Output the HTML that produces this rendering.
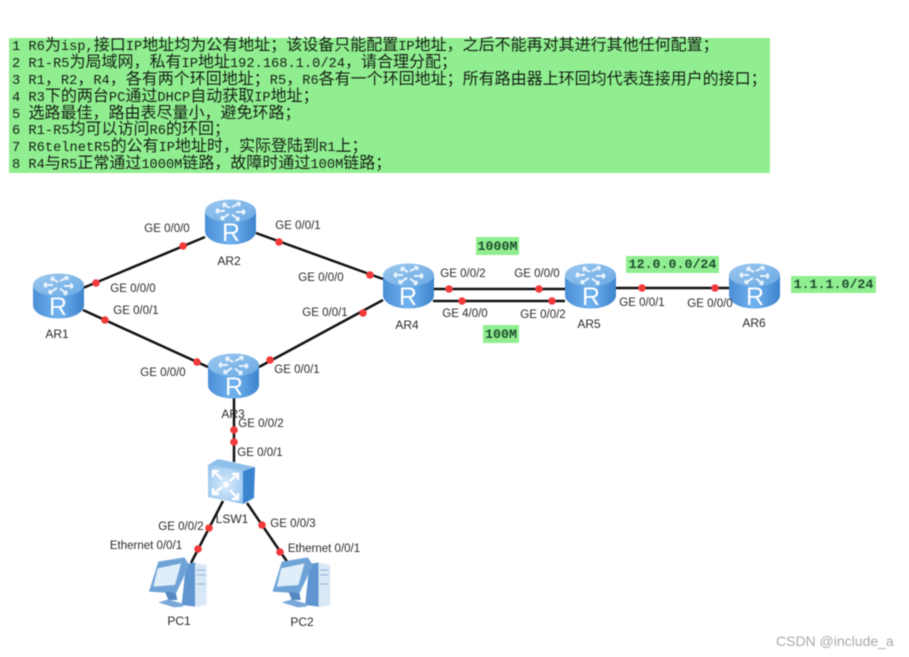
<!DOCTYPE html>
<html><head><meta charset="utf-8"><style>
html,body{margin:0;padding:0;background:#fff}
svg{display:block;filter:blur(.4px)}
.t text{font-family:"Liberation Sans","Noto Sans CJK SC",sans-serif;font-size:16px;fill:#142014;white-space:pre}
.t tspan{font-family:"Liberation Mono",monospace;font-size:13.7px}
.l text{font-family:"Liberation Sans",sans-serif;font-size:11.5px;fill:#2a2a2a;text-anchor:middle}
.n text{font-family:"Liberation Sans",sans-serif;font-size:12px;fill:#2a2a2a;text-anchor:middle}
.g text{font-family:"Liberation Mono",monospace;font-size:13.3px;font-weight:bold;fill:#1d4d2e;text-anchor:middle}
.r{font-family:"Liberation Sans",sans-serif;font-size:25px;fill:#fff;text-anchor:middle}
</style></head><body>
<svg width="909" height="657" viewBox="0 0 909 657" xmlns="http://www.w3.org/2000/svg">
<defs>
<linearGradient id="b" x1="0" x2="1" y1="0" y2="0"><stop offset="0" stop-color="#4b8fd6"/><stop offset=".5" stop-color="#70b2ef"/><stop offset="1" stop-color="#3d83cc"/></linearGradient>
<linearGradient id="tp" x1="0" x2="1" y1="0" y2="1"><stop offset="0" stop-color="#9cc8ef"/><stop offset="1" stop-color="#6aa9e4"/></linearGradient>
<radialGradient id="f" cx=".5" cy=".5" r=".7"><stop offset="0" stop-color="#dcedfb"/><stop offset="1" stop-color="#8ec0ee"/></radialGradient>
<g id="rt">
<path d="M0 12V32C0 40 11.5 45.5 25.5 45.5S51 40 51 32V12Z" fill="url(#b)"/>
<ellipse cx="25.5" cy="12" rx="25.5" ry="11.5" fill="url(#tp)"/>
<g stroke="#eaf4fd" stroke-width="2" fill="none">
<path d="M18 5L25 9M18 5l1 3.4M18 5l3.4-.6"/><path d="M35 4L27 8M35 4l-3.4-.2M35 4l-1 3.2"/>
<path d="M16 20L24 15M16 20l3.4.2M16 20l.8-3.2"/><path d="M34 21L27 15.5M34 21l-3.4.2M34 21l-.8-3.4"/>
<path d="M11 12H20M11 12l2.4-2.4M11 12l2.4 2.4"/><path d="M40 13H31M40 13l-2.4-2.4M40 13l-2.4 2.4"/>
</g>
</g>
<g id="pc">
<path d="M258 492L285 487L285 620L245 615Z" fill="#5f95d0"/>
<path d="M285 488L320 495V615L285 622Z" fill="#d9e8f6"/>
<path d="M290 510H316M290 525H316M290 552H316" stroke="#8fb4da" stroke-width="3"/>
<path d="M175 485L253 472L268 495L228 580L147 575Z" fill="#6fa3d8"/>
<path d="M173 505L243 490L225 555L160 560Z" fill="#e0eefa"/>
<path d="M195 575L228 580L232 600L205 600Z" fill="#5489c2"/>
<path d="M175 607L205 598L245 610L250 620L222 622Z" fill="#7aa8da"/>
</g>
</defs>
<rect width="909" height="657" fill="#fff"/>
<rect x="9" y="38" width="761" height="135" fill="#90ee90"/>
<g class="t">
<text x="12" y="50"><tspan>1 R6</tspan>为<tspan>isp,</tspan>接口<tspan>IP</tspan>地址均为公有地址；该设备只能配置<tspan>IP</tspan>地址，之后不能再对其进行其他任何配置；</text>
<text x="12" y="67"><tspan>2 R1-R5</tspan>为局域网，私有<tspan>IP</tspan>地址<tspan>192.168.1.0/24</tspan>，请合理分配；</text>
<text x="12" y="84"><tspan>3 R1</tspan>，<tspan>R2</tspan>，<tspan>R4</tspan>，各有两个环回地址；<tspan>R5</tspan>，<tspan>R6</tspan>各有一个环回地址；所有路由器上环回均代表连接用户的接口；</text>
<text x="12" y="101"><tspan>4 R3</tspan>下的两台<tspan>PC</tspan>通过<tspan>DHCP</tspan>自动获取<tspan>IP</tspan>地址；</text>
<text x="12" y="118"><tspan>5 </tspan>选路最佳，路由表尽量小，避免环路；</text>
<text x="12" y="134"><tspan>6 R1-R5</tspan>均可以访问<tspan>R6</tspan>的环回；</text>
<text x="12" y="151"><tspan>7 R6telnetR5</tspan>的公有<tspan>IP</tspan>地址时，实际登陆到<tspan>R1</tspan>上；</text>
<text x="12" y="168"><tspan>8 R4</tspan>与<tspan>R5</tspan>正常通过<tspan>1000M</tspan>链路，故障时通过<tspan>100M</tspan>链路；</text>
</g>
<g stroke="#111" stroke-width="2.5" fill="none">
<path d="M83 288L205 237"/><path d="M256 233L383 279"/><path d="M83 310L208 367"/><path d="M259 367L383 300"/>
<path d="M433 289H565"/><path d="M433 301H565"/><path d="M616 288H729"/>
<path d="M234 398V462"/><path d="M223 501L191 563"/><path d="M247 503L288 563"/>
</g>
<g fill="#f23a3a">
<circle cx="96" cy="283" r="3.8"/><circle cx="183" cy="246" r="3.8"/><circle cx="279" cy="242" r="3.8"/><circle cx="370" cy="275" r="3.8"/>
<circle cx="105" cy="320" r="3.8"/><circle cx="197" cy="362" r="3.8"/><circle cx="270" cy="360" r="3.8"/><circle cx="363" cy="313" r="3.8"/>
<circle cx="449" cy="289" r="3.8"/><circle cx="539" cy="289" r="3.8"/><circle cx="462" cy="301" r="3.8"/><circle cx="552" cy="301" r="3.8"/>
<circle cx="642" cy="288" r="3.8"/><circle cx="715" cy="288" r="3.8"/>
<circle cx="234" cy="430" r="3.8"/><circle cx="234" cy="442" r="3.8"/>
<circle cx="209" cy="528" r="3.8"/><circle cx="198" cy="549" r="3.8"/><circle cx="262" cy="525" r="3.8"/><circle cx="280" cy="552" r="3.8"/>
</g>
<use href="#rt" x="33" y="273"/><text class="r" x="58" y="315">R</text>
<use href="#rt" x="205" y="199"/><text class="r" x="231" y="241">R</text>
<use href="#rt" x="208" y="353"/><text class="r" x="234" y="395">R</text>
<use href="#rt" x="383" y="263"/><text class="r" x="408" y="305">R</text>
<use href="#rt" x="565" y="263"/><text class="r" x="591" y="305">R</text>
<use href="#rt" x="729" y="263"/><text class="r" x="755" y="305">R</text>
<path d="M208 465L243 471L255 467L218 459Z" fill="#8fc0ec"/>
<path d="M208 465L243 471V504L208 497Z" fill="url(#f)"/>
<path d="M243 471L255 467L254 498L243 504Z" fill="#3a84d0"/>
<g stroke="#fff" stroke-width="2.4" fill="none">
<path d="M213 471L222 479M213 477V471H219"/><path d="M238 474L230 481M232 474H238V480"/>
<path d="M213 494L222 487M213 488V494H219"/><path d="M238 499L230 490M238 493V499H232"/>
</g>
<circle cx="226" cy="484.5" r="3" fill="#fff"/>
<g transform="translate(100 400) scale(.3333)"><use href="#pc"/></g>
<g transform="translate(223.5 400) scale(.3333)"><use href="#pc"/></g>
<g class="l">
<text x="167" y="232">GE 0/0/0</text><text x="298" y="229">GE 0/0/1</text>
<text x="133" y="292">GE 0/0/0</text><text x="136" y="314">GE 0/0/1</text>
<text x="163" y="376">GE 0/0/0</text><text x="297" y="373">GE 0/0/1</text>
<text x="321" y="281">GE 0/0/0</text><text x="325" y="316">GE 0/0/1</text>
<text x="463" y="277">GE 0/0/2</text><text x="537" y="277">GE 0/0/0</text>
<text x="465" y="317">GE 4/0/0</text><text x="543" y="318">GE 0/0/2</text>
<text x="642" y="306">GE 0/0/1</text><text x="710" y="307">GE 0/0/0</text>
<text x="261" y="427">GE 0/0/2</text><text x="260" y="456">GE 0/0/1</text>
<text x="181" y="530">GE 0/0/2</text><text x="293" y="527">GE 0/0/3</text>
<text x="146" y="549">Ethernet 0/0/1</text><text x="324" y="552">Ethernet 0/0/1</text>
</g>
<g class="n">
<text x="57" y="338">AR1</text><text x="229" y="265">AR2</text><text x="233" y="418">AR3</text>
<text x="407" y="329">AR4</text><text x="589" y="328">AR5</text><text x="754" y="327">AR6</text>
<text x="232" y="523">LSW1</text><text x="179" y="625">PC1</text><text x="302" y="626">PC2</text>
</g>
<g fill="#90ee90">
<rect x="476" y="237" width="43" height="18"/><rect x="483" y="325" width="36" height="18"/>
<rect x="626" y="256" width="93" height="17"/><rect x="791" y="276" width="85" height="17"/>
</g>
<g class="g">
<text x="497.5" y="250">1000M</text><text x="501" y="338">100M</text>
<text x="672.5" y="268">12.0.0.0/24</text><text x="833.5" y="288">1.1.1.0/24</text>
</g>
<text x="776" y="646" font-family="'Liberation Sans',sans-serif" font-size="14" fill="#aaa">CSDN @include_a</text>
</svg>
</body></html>
